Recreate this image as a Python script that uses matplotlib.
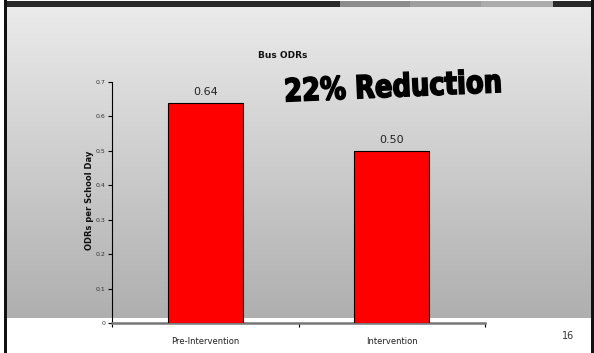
import numpy as np
import matplotlib
matplotlib.use('Agg')
from matplotlib import pyplot as plt
from matplotlib.patches import Rectangle, PathPatch
from matplotlib.textpath import TextPath
from matplotlib.font_manager import FontProperties
from matplotlib.transforms import Affine2D

# data
categories = ['Pre-Intervention', 'Intervention']
odrs = [0.64, 0.50]
yticks = [0, 0.1, 0.2, 0.3, 0.4, 0.5, 0.6, 0.7]
ytick_labels = ['0', '0.1', '0.2', '0.3', '0.4', '0.5', '0.6', '0.7']

W, H = 594, 353
fig = plt.figure(figsize=(W / 100, H / 100), dpi=100)
fig.patch.set_facecolor('white')


def fx(x):
    return x / W


def fy(y):
    return 1 - y / H


# slide background: gray gradient with white strip at bottom
bg = fig.add_axes([0, 0, 1, 1], zorder=0)
bg.set_xlim(0, W)
bg.set_ylim(H, 0)
bg.axis('off')
grad = np.linspace(0, 1, 256).reshape(-1, 1)
cmap = matplotlib.colors.LinearSegmentedColormap.from_list('g', ['#ebebeb', '#afafaf'])
bg.imshow(grad, cmap=cmap, extent=[7, 591, 318, 6], aspect='auto')

# top bar with gray segments
bg.add_patch(Rectangle((4, 1), 590, 5.5, color='#2a2a2a', lw=0))
seg_x = [340, 410, 481]
seg_w = [70, 71, 72]
seg_c = ['#8c8c8c', '#9e9e9e', '#acacac']
for x0, w, c in zip(seg_x, seg_w, seg_c):
    bg.add_patch(Rectangle((x0, 1), w, 5.5, color=c, lw=0))
# side borders
bg.add_patch(Rectangle((4, 0), 3, H, color='#111111', lw=0))
bg.add_patch(Rectangle((591, 0), 3, H, color='#111111', lw=0))

# big "22% Reduction" - condensed bold text drawn as a path
tp = TextPath((0, 0), '22% Reduction', size=33,
              prop=FontProperties(family='DejaVu Sans', weight='bold'))
ext = tp.get_extents()
sx = 214 / ext.width
cx, cy = (ext.x0 + ext.x1) / 2, (ext.y0 + ext.y1) / 2
tr = (Affine2D().translate(-cx, -cy).scale(sx, 0.95).rotate_deg(2.5)
      .scale(1, -1).translate(393, 85))
big = tr.transform_path(tp)
bg.add_patch(PathPatch(big, facecolor='black', edgecolor='black', lw=1.2, zorder=5))

# chart
ax = fig.add_axes([fx(112), fy(323), fx(485) - fx(112), fy(82) - fy(323)], zorder=2)
ax.patch.set_alpha(0)
x = np.arange(len(categories))
bars = ax.bar(x, odrs, width=0.40, color='#ff0000', edgecolor='black', linewidth=0.8, zorder=3)
for xi, v in zip(x, odrs):
    ax.annotate('%.2f' % v, (xi, v), xytext=(0, 4), textcoords='offset points',
                ha='center', va='bottom', fontsize=8, color='#222222')

ax.set_xlim(-0.5, 1.5)
ax.set_ylim(0, 0.7)
ax.set_yticks(yticks)
ax.set_yticklabels(ytick_labels, fontsize=4.5, color='#333333')
ax.set_xticks([-0.5, 0.5, 1.5])
ax.set_xticklabels([])
ax.set_xticks(x, minor=True)
ax.set_xticklabels(categories, minor=True, fontsize=6, color='#222222')
ax.tick_params(axis='x', which='minor', length=0, pad=10)
ax.tick_params(axis='x', which='major', length=3, width=0.8, direction='out')
ax.tick_params(axis='y', length=3, width=0.8, pad=2)
for s in ['top', 'right']:
    ax.spines[s].set_visible(False)
ax.spines['left'].set_color('black')
ax.spines['left'].set_linewidth(0.8)
ax.spines['bottom'].set_color('#777777')
ax.spines['bottom'].set_linewidth(1.8)

fig.text(fx(90), fy(200), 'ODRs per School Day', rotation=90, ha='center', va='center',
         fontsize=6, fontweight='bold', color='#111111')
fig.text(fx(283), fy(56), 'Bus ODRs', ha='center', va='center', fontsize=6.5,
         fontweight='bold', color='#111111')

fig.text(fx(568), fy(336), '16', ha='center', va='center', fontsize=7, color='#333333')

plt.savefig('out.png', dpi=100)
